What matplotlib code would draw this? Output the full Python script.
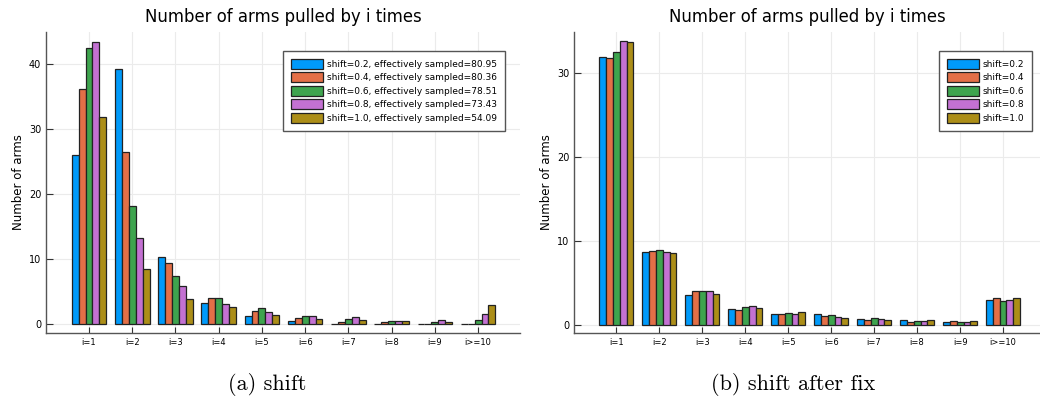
import numpy as np
import matplotlib.pyplot as plt

# categories and series
cats = ['i=1', 'i=2', 'i=3', 'i=4', 'i=5', 'i=6', 'i=7', 'i=8', 'i=9', 'i>=10']
shifts = ['0.2', '0.4', '0.6', '0.8', '1.0']
eff = ['80.95', '80.36', '78.51', '73.43', '54.09']
colors = ['#009AFA', '#E36F47', '#3EA44E', '#C371D2', '#AC8E18']

# (a) shift
a_02 = [26.0, 39.3, 10.3, 3.33, 1.23, 0.46, 0.10, 0.03, 0.02, 0.02]
a_04 = [36.15, 26.45, 9.5, 4.0, 2.05, 0.92, 0.41, 0.41, 0.05, 0.10]
a_06 = [42.55, 18.2, 7.4, 4.0, 2.46, 1.33, 0.77, 0.51, 0.30, 0.67]
a_08 = [43.5, 13.3, 5.85, 3.13, 1.95, 1.23, 1.18, 0.56, 0.72, 1.64]
a_10 = [31.9, 8.45, 3.85, 2.6, 1.5, 0.82, 0.62, 0.56, 0.36, 3.03]

# (b) shift after fix
b_02 = [31.9, 8.69, 3.59, 1.87, 1.24, 1.27, 0.68, 0.52, 0.36, 2.99]
b_04 = [31.75, 8.8, 4.02, 1.79, 1.31, 1.04, 0.60, 0.32, 0.44, 3.15]
b_06 = [32.5, 8.88, 3.98, 2.15, 1.43, 1.16, 0.80, 0.44, 0.36, 2.87]
b_08 = [33.8, 8.72, 4.02, 2.27, 1.31, 0.96, 0.64, 0.44, 0.36, 2.99]
b_10 = [33.75, 8.57, 3.63, 2.03, 1.51, 0.80, 0.56, 0.60, 0.44, 3.23]


def panel(ax, series, labels, ylim, xlim, yticks, leg_anchor):
    x = np.arange(1, len(cats) + 1)
    w = 0.16
    for k, (vals, lab) in enumerate(zip(series, labels)):
        ax.bar(x + (k - 2) * w, vals, w, color=colors[k], edgecolor='#222222',
               linewidth=0.9, label=lab, zorder=3)
    ax.set_xticks(x)
    ax.set_xticklabels(cats, fontsize=6)
    ax.set_yticks(yticks)
    ax.tick_params(axis='y', labelsize=7, direction='in', length=5, color='#333333')
    ax.tick_params(axis='x', direction='in', length=4, color='#333333')
    ax.set_xlim(*xlim)
    ax.set_ylim(*ylim)
    ax.grid(True, color='#ebebeb', linewidth=0.8, zorder=0)
    for s in ['top', 'right']:
        ax.spines[s].set_visible(False)
    for s in ['left', 'bottom']:
        ax.spines[s].set_color('#555555')
        ax.spines[s].set_linewidth(1.0)
    ax.set_title('Number of arms pulled by i times', fontsize=11.9, pad=7)
    ax.set_ylabel('Number of arms', fontsize=8.5, labelpad=3)
    leg = ax.legend(loc='upper right', bbox_to_anchor=leg_anchor, borderaxespad=0,
                    fontsize=6.5, fancybox=False, framealpha=1, edgecolor='#555555',
                    handlelength=3.6, handleheight=1.35, borderpad=0.85,
                    labelspacing=0.38, handletextpad=0.4)
    leg.get_frame().set_linewidth(1.0)


fig = plt.figure(figsize=(10.4, 4.03), dpi=100)

ax1 = fig.add_axes([46 / 1040, 1 - 333 / 403, 474 / 1040, 301 / 403])
panel(ax1, [a_02, a_04, a_06, a_08, a_10],
      ['shift=%s, effectively sampled=%s' % (s, e) for s, e in zip(shifts, eff)],
      (-1.34, 45), (0.005, 10.97), [0, 10, 20, 30, 40], (0.968, 0.937))

ax2 = fig.add_axes([574 / 1040, 1 - 333 / 403, 466 / 1040, 301 / 403])
panel(ax2, [b_02, b_04, b_06, b_08, b_10],
      ['shift=%s' % s for s in shifts],
      (-1.0, 34.9), (0.016, 10.86), [0, 10, 20, 30], (0.983, 0.937))

fig.text(267 / 1040, 1 - 385 / 403, '(a) shift', ha='center', va='center',
         fontsize=16, family='cmr10')
fig.text(793 / 1040, 1 - 385 / 403, '(b) shift after fix', ha='center', va='center',
         fontsize=16, family='cmr10')

fig.savefig('out.png', dpi=100)
